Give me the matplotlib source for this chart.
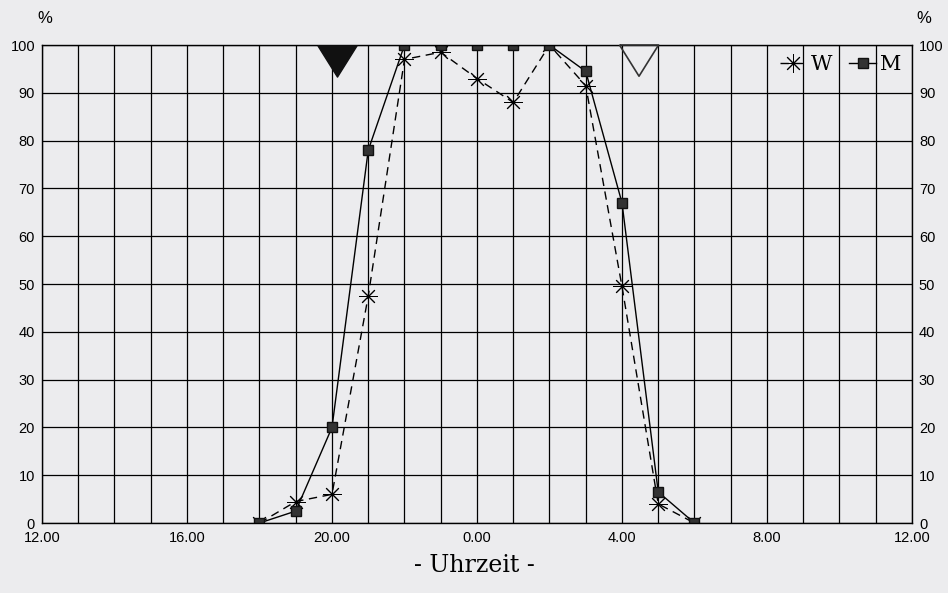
import numpy as np
import matplotlib.pyplot as plt
from matplotlib.ticker import MultipleLocator

# Stunden ab 12.00 Uhr (6 = 18.00, 12 = 0.00, 18 = 6.00)
hours = [6, 7, 8, 9, 10, 11, 12, 13, 14, 15, 16, 17, 18]
w_vals = [0, 4.5, 6, 47.5, 97, 98.5, 93, 88, 100, 91.5, 49.5, 4, 0]
m_vals = [0, 2.5, 20, 78, 100, 100, 100, 100, 100, 94.5, 67, 6.5, 0]

tick_pos = [0, 4, 8, 12, 16, 20, 24]
tick_labels = ["12.00", "16.00", "20.00", "0.00", "4.00", "8.00", "12.00"]

# Sonnenuntergang / Sonnenaufgang
sunset = 8.15
sunrise = 16.47

bg = "#ececee"
fig = plt.figure(figsize=(9.48, 5.93), dpi=100, facecolor=bg)
ax = fig.add_axes([0.0443, 0.118, 0.9177, 0.806])
ax.set_facecolor(bg)

ax.plot(hours, w_vals, color="black", lw=1, ls=(0, (6, 4)), marker=(8, 2, 0),
        ms=13, mew=0.7, label="W")
ax.plot(hours, m_vals, color="black", lw=1, marker="s", ms=7,
        mfc="#333333", mec="#111111", label="M")

# flaches Dreieck, Spitze nach unten
tri = [(-1, 0.8), (1, 0.8), (0, -0.8), (-1, 0.8)]
ax.scatter([sunset], [96.75], marker=tri, s=790, color="#111111", zorder=4, clip_on=False)
ax.scatter([sunrise], [96.75], marker=tri, s=790, facecolor="none",
           edgecolor="#333333", lw=1.2, zorder=4, clip_on=False)

ax.set_xlim(0, 24)
ax.set_ylim(0, 100)
ax.xaxis.set_major_locator(MultipleLocator(1))
ax.set_xticks(tick_pos, tick_labels)
ax.set_xticks(np.arange(0, 25, 1), minor=True)
ax.set_yticks(np.arange(0, 101, 10))
ax.grid(True, which="both", axis="x", color="black", lw=0.9)
ax.grid(True, which="major", axis="y", color="black", lw=0.9)
ax.tick_params(which="both", length=0, labelsize=10.5, pad=6)
ax.tick_params(axis="y", labelright=True, pad=5)
for s in ax.spines.values():
    s.set_color("black")
    s.set_linewidth(1)
for lbl in ax.get_xticklabels() + ax.get_yticklabels():
    lbl.set_fontfamily("Liberation Sans")

fig.text(0.0475, 0.962, "%", fontsize=12, family="Liberation Sans", ha="center")
fig.text(0.975, 0.962, "%", fontsize=12, family="Liberation Sans", ha="center")
fig.text(0.5, 0.035, "- Uhrzeit -", fontsize=17, family="DejaVu Serif", ha="center")

leg = ax.legend(loc="upper right", ncol=2, frameon=False, handlelength=1.3,
                handletextpad=0.2, columnspacing=0.8, borderaxespad=0.1,
                prop={"family": "DejaVu Serif", "size": 15})

plt.savefig("out.png", dpi=100, facecolor=bg)
